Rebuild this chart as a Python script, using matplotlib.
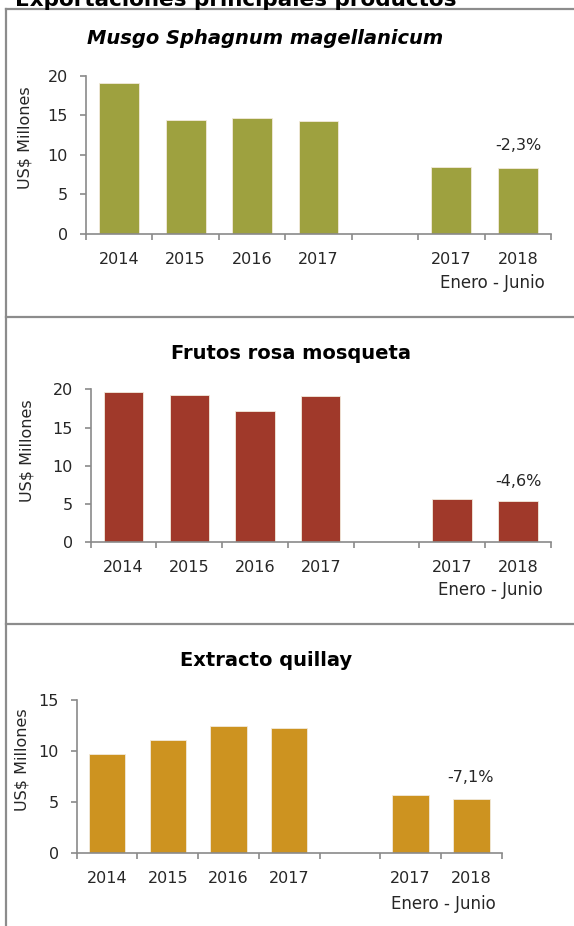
import matplotlib.pyplot as plt
from matplotlib.lines import Line2D
import numpy as np

# data (US$ millones)
cats = ['2014', '2015', '2016', '2017', '', '2017', '2018']
musgo = [19.1, 14.45, 14.6, 14.3, np.nan, 8.5, 8.3]
rosa = [19.6, 19.2, 17.1, 19.1, np.nan, 5.66, 5.4]
quillay = [9.7, 11.06, 12.43, 12.23, np.nan, 5.67, 5.27]
pct = ['-2,3%', '-4,6%', '-7,1%']

W, H = 574, 926
fig = plt.figure(figsize=(W / 100, H / 100), dpi=100)

def fx(x):
    return x / W

def fy(y):
    return 1 - y / H

def panel(vals, color, box, ymax, step, title, tpos, italic, ylab, pct_txt, pct_pos, ej_pos):
    x0, y0, x1, y1 = box
    ax = fig.add_axes([fx(x0), fy(y1), fx(x1 - x0), (y1 - y0) / H])
    x = np.arange(len(cats))
    ax.bar(x, vals, width=0.6, color=color, edgecolor='#f2eadc', linewidth=0.6)
    ax.set_xlim(-0.5, len(cats) - 0.5)
    ax.set_ylim(0, ymax)
    ax.set_yticks(np.arange(0, ymax + 0.1, step))
    ax.set_xticks(np.arange(-0.5, len(cats)), [''] * (len(cats) + 1))
    ax.set_xticks(x, cats, minor=True)
    for s in ['top', 'right']:
        ax.spines[s].set_visible(False)
    for s in ['left', 'bottom']:
        ax.spines[s].set_color('#8a8a8a')
        ax.spines[s].set_linewidth(1.2)
    ax.tick_params(axis='y', length=4, width=1.2, color='#8a8a8a', pad=9,
                   labelsize=11.5, labelcolor='#262626')
    ax.tick_params(axis='x', which='major', length=4.5, width=1.2, color='#8a8a8a')
    ax.tick_params(axis='x', which='minor', length=0, pad=13,
                   labelsize=11.5, labelcolor='#262626')
    ax.set_facecolor('none')
    fig.text(fx(tpos[0]), fy(tpos[1]), title, ha='center', va='center', fontsize=14,
             fontweight='bold', style='italic' if italic else 'normal', color='black')
    fig.text(fx(ylab[0]), fy(ylab[1]), 'US$ Millones', rotation=90, ha='center',
             va='center', fontsize=11.5, color='#262626')
    fig.text(fx(pct_pos[0]), fy(pct_pos[1]), pct_txt, ha='center', va='center',
             fontsize=11.5, color='#262626')
    fig.text(fx(ej_pos[0]), fy(ej_pos[1]), 'Enero - Junio', ha='center', va='center',
             fontsize=12, color='#262626')

panel(musgo, '#9ea13f', (86, 75.7, 551, 234), 20, 5, 'Musgo Sphagnum magellanicum',
      (265, 38), True, (25, 138), pct[0], (518, 146), (492, 283))
panel(rosa, '#a0392a', (90.7, 389.3, 550.7, 542.3), 20, 5, 'Frutos rosa mosqueta',
      (291, 353), False, (27, 451), pct[1], (518, 481), (490, 590))
panel(quillay, '#cd9320', (76.7, 700, 501.7, 853.3), 15, 5, 'Extracto quillay',
      (266, 660), False, (22, 760), pct[2], (471, 778), (443, 904))

# main title, cut at the top of the picture as in the source
fig.text(fx(15), fy(6), 'Exportaciones principales productos', ha='left', va='baseline',
         fontsize=15.5, fontweight='bold', color='black')

# panel frames
gray = '#8c8c8c'
for y in [8.5, 317, 624]:
    fig.add_artist(Line2D([fx(6), 1], [fy(y), fy(y)], color=gray, lw=1.6))
fig.add_artist(Line2D([fx(6), fx(6)], [fy(8.5), 0], color=gray, lw=1.6))

fig.savefig('out.png', dpi=100)
